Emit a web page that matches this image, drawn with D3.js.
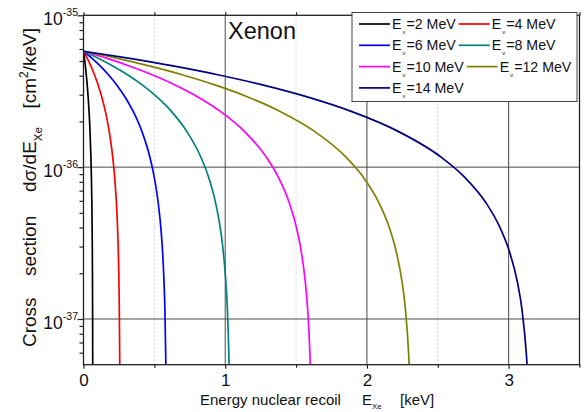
<!DOCTYPE html>
<html lang="en">
<head>
  <meta charset="UTF-8">
  <title>Xenon cross section</title>
  <script src="https://d3js.org/d3.v7.min.js"></script>
  <style>
    body { margin: 0; padding: 0; background: white; }
    svg { display: block; font-family: "Liberation Sans", Arial, sans-serif; }
  </style>
</head>
<body>
  <svg width="586" height="412"></svg>
  <script>
    const width = 586, height = 412;

    // neutrino energies (MeV) and line colors
    const energies = [2, 4, 6, 8, 10, 12, 14];
    const colors = ["#000000", "#ff0000", "#0000ff", "#008080", "#ff00ff", "#808000", "#000080"];

    // cross section values (cm^2/keV)
    const sigma = [5.8e-36, 5.22e-36, 4.64e-36, 4.06e-36, 3.48e-36, 2.9e-36, 2.32e-36, 1.74e-36,
      1.16e-36, 8.7e-37, 5.8e-37, 4.06e-37, 2.9e-37, 1.74e-37, 1.16e-37, 5.8e-38, 5.0e-38];

    // recoil energies (keV) at those cross-section levels, one array per curve
    const recoil2 = [0, .0066, .0131, .0197, .0262, .0328, .0393, .0459, .0524, .0557, .059, .0609, .0622, .0635, .0642, .0648, .0649];
    const recoil4 = [0, .0258, .0516, .0774, .1032, .129, .1548, .1806, .2064, .2193, .2322, .2399, .2451, .2503, .2528, .2554, .2558];
    const recoil6 = [0, .0586, .1172, .1758, .2344, .293, .3516, .4102, .4688, .4981, .5274, .545, .5567, .5684, .5743, .5801, .581];
    const recoil8 = [0, .1036, .2072, .3108, .4144, .518, .6216, .7252, .8288, .8806, .9324, .9635, .9842, 1.0049, 1.0153, 1.0256, 1.0271];
    const recoil10 = [0, .1614, .3228, .4842, .6456, .807, .9684, 1.1298, 1.2912, 1.3719, 1.4526, 1.501, 1.5333, 1.5656, 1.5817, 1.5979, 1.6001];
    const recoil12 = [0, .2318, .4636, .6954, .9272, 1.159, 1.3908, 1.6226, 1.8544, 1.9703, 2.0862, 2.1557, 2.2021, 2.2485, 2.2716, 2.2948, 2.298];
    const recoil14 = [0, .3157, .6314, .9471, 1.2628, 1.5785, 1.8942, 2.2099, 2.5256, 2.6835, 2.8413, 2.936, 2.9992, 3.0623, 3.0939, 3.1254, 3.1299];
    const recoils = [recoil2, recoil4, recoil6, recoil8, recoil10, recoil12, recoil14];

    const xTicks = [0, 1, 2, 3];
    const xMinor = [0.5, 1.5, 2.5, 3.5];
    const yTicks = [1e-35, 1e-36, 1e-37];
    const yExps = ["-35", "-36", "-37"];

    const svg = d3.select("svg");
    const pLeft = 83.5, pRight = 579.5, pTop = 15.3, pBottom = 364.7;

    const x = d3.scaleLinear().domain([0, 3.5]).range([pLeft, pRight]);
    const y = d3.scaleLog().domain([5e-38, 1e-35]).range([pBottom, pTop]);

    // grid
    svg.append("g").selectAll("line").data(xMinor.slice(0, 3)).join("line")
      .attr("x1", d => x(d)).attr("x2", d => x(d)).attr("y1", pTop).attr("y2", pBottom)
      .attr("stroke", "#c8c8c8").attr("stroke-width", 0.8).attr("stroke-dasharray", "2,2");
    svg.append("g").selectAll("line").data(xTicks.slice(1)).join("line")
      .attr("x1", d => x(d)).attr("x2", d => x(d)).attr("y1", pTop).attr("y2", pBottom)
      .attr("stroke", "#4a4a4a").attr("stroke-width", 1);
    svg.append("g").selectAll("line").data(yTicks.slice(1)).join("line")
      .attr("x1", pLeft).attr("x2", pRight).attr("y1", d => y(d)).attr("y2", d => y(d))
      .attr("stroke", "#4a4a4a").attr("stroke-width", 1);

    // curves
    svg.append("defs").append("clipPath").attr("id", "plot")
      .append("rect").attr("x", pLeft).attr("y", pTop).attr("width", pRight - pLeft).attr("height", pBottom - pTop);
    const line = d3.line().x(d => x(d[0])).y(d => y(d[1])).curve(d3.curveMonotoneX);
    svg.append("g").attr("clip-path", "url(#plot)").selectAll("path").data(recoils).join("path")
      .attr("d", r => line(r.map((v, i) => [v, sigma[i]])))
      .attr("fill", "none")
      .attr("stroke", (d, i) => colors[i])
      .attr("stroke-width", 1.7);

    // axes
    const axisColor = "#222";
    const gx = svg.append("g").attr("transform", `translate(0,${pBottom})`)
      .call(d3.axisBottom(x).tickValues(xTicks).tickSize(4).tickFormat(d3.format("d")));
    gx.select(".domain").remove();
    gx.selectAll("line").attr("stroke", axisColor).attr("stroke-width", 1.2);
    gx.selectAll("text").attr("font-size", 17).attr("fill", "#111").attr("dy", "0.85em")
      .attr("font-family", "'Liberation Sans', Arial, sans-serif");
    svg.append("g").attr("transform", `translate(0,${pBottom})`)
      .call(d3.axisBottom(x).tickValues(xMinor).tickSize(3).tickFormat(""))
      .call(g => g.select(".domain").remove())
      .selectAll("line").attr("stroke", axisColor).attr("stroke-width", 1.2);

    // top ticks
    svg.append("g").attr("transform", `translate(0,${pTop})`)
      .call(d3.axisTop(x).tickValues(xTicks.concat(xMinor)).tickSize(3).tickFormat(""))
      .call(g => g.select(".domain").remove())
      .selectAll("line").attr("stroke", axisColor).attr("stroke-width", 1.2);

    // left axis
    const minor = [];
    [-38, -37, -36].forEach(e => {
      for (let k = 2; k <= 9; k++) {
        const v = k * Math.pow(10, e);
        if (v >= 5e-38 && v <= 1e-35) minor.push(v);
      }
    });
    svg.append("g").attr("transform", `translate(${pLeft},0)`)
      .call(d3.axisLeft(y).tickValues(yTicks).tickSize(6).tickFormat(""))
      .call(g => g.select(".domain").remove())
      .selectAll("line").attr("stroke", axisColor).attr("stroke-width", 1.2);
    svg.append("g").attr("transform", `translate(${pLeft},0)`)
      .call(d3.axisLeft(y).tickValues(minor).tickSize(4).tickFormat(""))
      .call(g => g.select(".domain").remove())
      .selectAll("line").attr("stroke", axisColor).attr("stroke-width", 1.2);

    const yl = svg.append("g").selectAll("text").data(yTicks).join("text")
      .attr("x", 78).attr("y", d => y(d) + 10)
      .attr("text-anchor", "end").attr("fill", "#111");
    yl.append("tspan").attr("font-size", 17.5).text("10");
    yl.append("tspan").attr("font-size", 10.5).attr("dy", -9).text((d, i) => yExps[i]);

    // frame
    svg.append("rect").attr("x", pLeft).attr("y", pTop).attr("width", pRight - pLeft).attr("height", pBottom - pTop)
      .attr("fill", "none").attr("stroke", axisColor).attr("stroke-width", 1.3);

    // titles
    const xt = svg.append("text").attr("y", 405).attr("font-size", 15).attr("fill", "#111");
    xt.append("tspan").attr("x", 200).text("Energy nuclear recoil");
    xt.append("tspan").attr("x", 362).text("E");
    xt.append("tspan").attr("font-size", 8).attr("dy", 4).text("Xe");
    xt.append("tspan").attr("x", 400).attr("dy", -4).text("[keV]");

    const yt = svg.append("g").attr("transform", "translate(36,0) rotate(-90)")
      .attr("font-size", 19).attr("fill", "#111");
    yt.append("text").attr("x", -347).text("Cross");
    yt.append("text").attr("x", -276).text("section");
    const dt = yt.append("text").attr("x", -192);
    dt.append("tspan").text("d\u03c3/dE");
    dt.append("tspan").attr("font-size", 11.5).attr("dy", 6).text("Xe");
    const ct = yt.append("text").attr("x", -28).attr("text-anchor", "end");
    ct.append("tspan").text("[cm");
    ct.append("tspan").attr("font-size", 12).attr("dy", -8).text("2");
    ct.append("tspan").attr("dy", 8).text("/keV]");

    svg.append("text").attr("x", 228).attr("y", 39).attr("font-size", 23.5).attr("fill", "#111").text("Xenon");

    // legend
    const lg = svg.append("g");
    lg.append("rect").attr("x", 352).attr("y", 12.5).attr("width", 225).attr("height", 89)
      .attr("fill", "white").attr("stroke", "#444").attr("stroke-width", 1);
    const rows = [[0, 1], [2, 3], [4, 5], [6]];
    rows.forEach((row, r) => {
      let cx = 359;
      const cy = 24 + r * 21.3;
      row.forEach(i => {
        lg.append("line").attr("x1", cx).attr("x2", cx + 31).attr("y1", cy).attr("y2", cy)
          .attr("stroke", colors[i]).attr("stroke-width", 1.7);
        const t = lg.append("text").attr("x", cx + 33).attr("y", cy + 5).attr("font-size", 14.2).attr("fill", "#111");
        t.append("tspan").text("E");
        t.append("tspan").attr("font-size", 6).attr("dx", 1).attr("dy", 5).text("\u03bd");
        t.append("tspan").attr("dx", 1).attr("dy", -5).text(`=${energies[i]} MeV`);
        cx = cx + 33 + t.node().getComputedTextLength() + 5;
      });
    });
  </script>
</body>
</html>
